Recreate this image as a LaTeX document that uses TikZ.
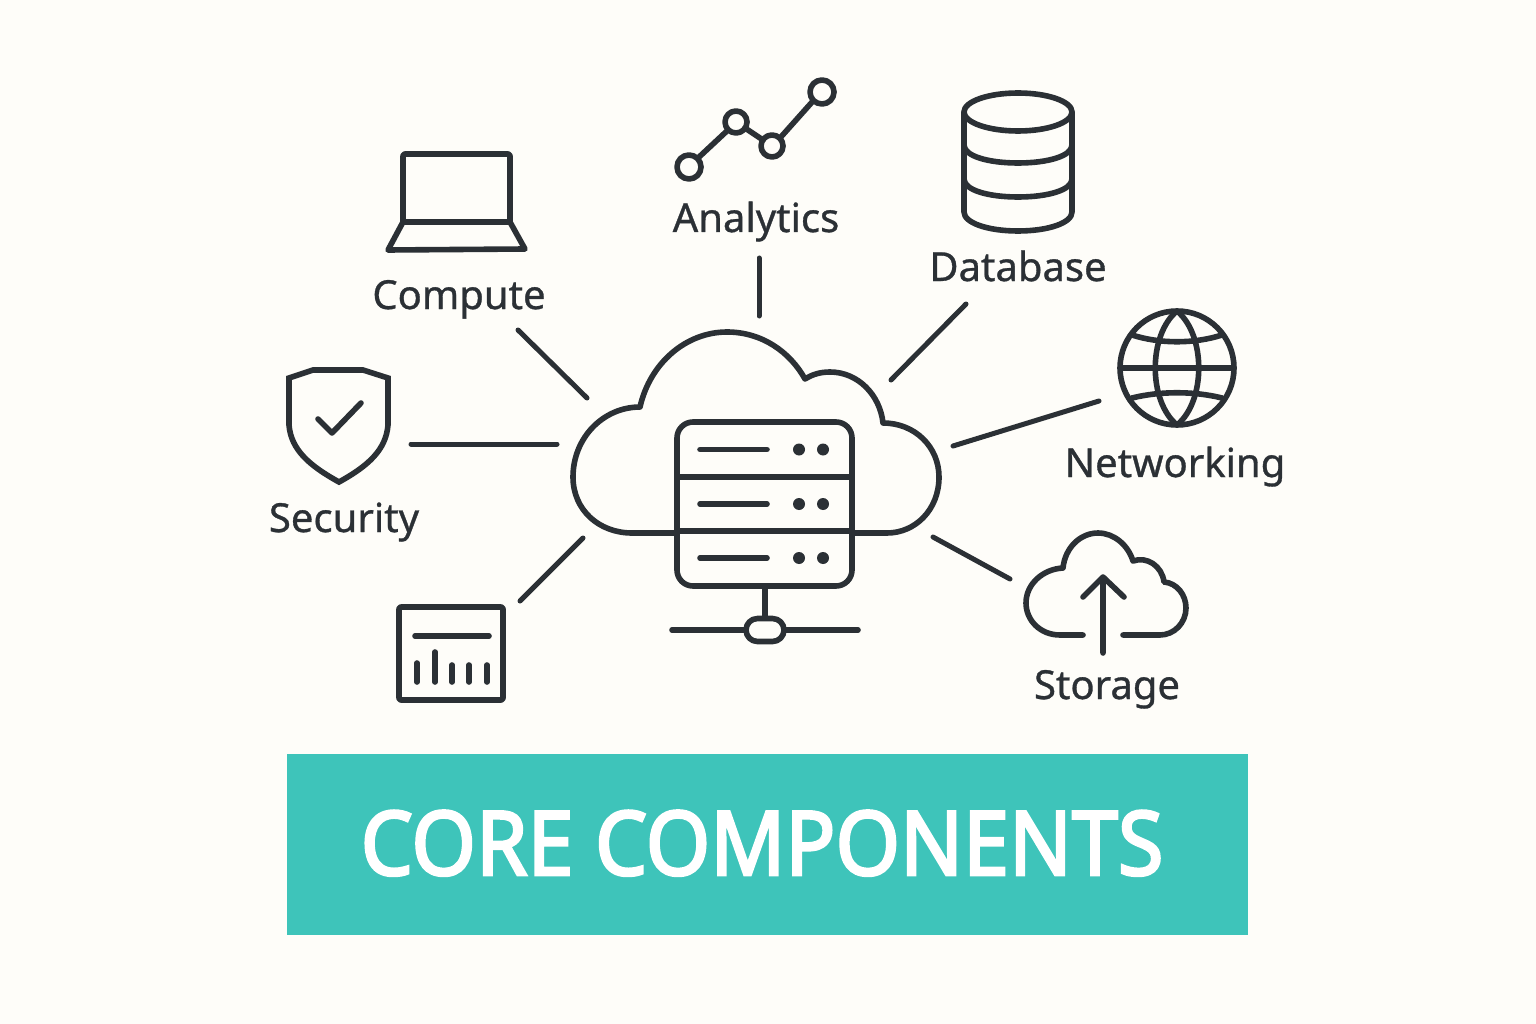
\documentclass[tikz,border=0pt]{standalone}
\usepackage{fontspec}
\setmainfont[FakeBold=0.8]{Noto Sans}
\newfontfamily\titlefont[FakeBold=3]{Noto Sans}
\definecolor{ink}{HTML}{2B3035}
\definecolor{paper}{HTML}{FEFDF9}
\definecolor{teal}{HTML}{3EC4BA}
\tikzset{
  icon/.style={draw=ink,line width=5.6pt,line cap=round,line join=round},
  link/.style={draw=ink,line width=5pt,line cap=round},
  lbl/.style={text=ink,inner sep=0pt,anchor=base,font=\fontsize{40}{46}\selectfont},
  dot/.style={fill=ink,draw=none}
}
\begin{document}
\begin{tikzpicture}[x=1pt,y=-1pt]
\useasboundingbox (0,0) rectangle (1536,1024);
\fill[paper] (0,0) rectangle (1536,1024);
% banner
\node[fill=teal,minimum width=961pt,minimum height=181pt,inner sep=0pt,anchor=center] (banner) at (767.5,844.5) {};
\node[text=white,inner sep=0pt,anchor=base,font=\titlefont\fontsize{89}{100}\selectfont] (title) at (762,875) {\scalebox{0.93}[1]{CORE COMPONENTS}};
% central cloud
\draw[icon] (677,533) -- (632,533) .. controls (599,533) and (573,510) .. (573,477)
  .. controls (573,438) and (603,407) .. (640,407)
  .. controls (650,363) and (686,332) .. (727,332)
  .. controls (762,332) and (790,352) .. (805,379)
  .. controls (813,374) and (821,372) .. (830,372)
  .. controls (858,372) and (880,395) .. (883,423)
  .. controls (915,423) and (939,447) .. (939,477)
  .. controls (939,510) and (915,533) .. (887,533) -- (852,533);
% server
\draw[icon,rounded corners=16pt] (677,422) rectangle (852,586);
\draw[icon] (677,477) -- (852,477) (677,531) -- (852,531);
\draw[icon] (700,449.5) -- (767,449.5) (700,504) -- (767,504) (700,558) -- (767,558);
\foreach \y in {449.5,504,558} {
  \fill[dot] (799,\y) circle (6pt);
  \fill[dot] (823,\y) circle (6pt);
}
\draw[icon] (765,586) -- (765,617);
\draw[icon,rounded corners=11.5pt] (746,618.5) rectangle (784,641.5);
\draw[icon] (672,630) -- (746,630) (784,630) -- (858,630);
% laptop
\draw[icon,rounded corners=2pt] (403,222) -- (403,154) -- (510,154) -- (510,222);
\draw[icon] (403,222) -- (510,222) -- (525,249) -- (388,250) -- cycle;
\node[lbl] (compute) at (459,309) {Compute};
% analytics
\draw[icon] (689,167) circle (12pt) (736,122) circle (11pt) (772,146) circle (11pt) (822,92) circle (12pt);
\draw[icon] (698,158) -- (728,130) (745,128) -- (763,140) (780,138) -- (813,101);
\node[lbl] (analytics) at (756,232) {Analytics};
% database
\draw[icon] (1018,112) ellipse (54pt and 19pt);
\draw[icon] (964,112) -- (964,212) .. controls (964,223) and (988,231) .. (1018,231) .. controls (1048,231) and (1072,223) .. (1072,212) -- (1072,112);
\draw[icon] (964,145) .. controls (964,156) and (988,163) .. (1018,163) .. controls (1048,163) and (1072,156) .. (1072,145);
\draw[icon] (964,179) .. controls (964,190) and (988,197) .. (1018,197) .. controls (1048,197) and (1072,190) .. (1072,179);
\node[lbl] (database) at (1018,281) {Database};
% globe
\draw[icon] (1177,368) circle (57pt);
\draw[icon] (1177,311) .. controls (1148,335) and (1148,401) .. (1177,425) .. controls (1206,401) and (1206,335) .. (1177,311);
\draw[icon] (1120,368) -- (1234,368);
\draw[icon] (1132,335) .. controls (1160,344) and (1194,344) .. (1222,335);
\draw[icon] (1132,398) .. controls (1160,391) and (1194,391) .. (1222,398);
\node[lbl] (networking) at (1175,477) {Networking};
% storage
\draw[icon] (1083,635) -- (1060,635) .. controls (1040,635) and (1026,620) .. (1026,603)
  .. controls (1026,584) and (1043,569) .. (1063,568)
  .. controls (1065,548) and (1080,533) .. (1098,533)
  .. controls (1114,533) and (1128,545) .. (1133,561)
  .. controls (1147,556) and (1162,566) .. (1164,582)
  .. controls (1177,583) and (1186,595) .. (1186,608)
  .. controls (1186,623) and (1174,635) .. (1160,635) -- (1123,635);
\draw[icon] (1103,653) -- (1103,577) (1083,597) -- (1103,577) -- (1124,597);
\node[lbl] (storage) at (1107,699) {Storage};
% shield
\draw[icon,miter limit=4,line join=miter] (289,378) -- (313,370) -- (363,370) -- (388,378) -- (388,425)
  .. controls (386,450) and (368,466) .. (339,482)
  .. controls (310,466) and (291,450) .. (289,425) -- cycle;
\draw[icon] (318,419) -- (332,433) -- (361,403);
\node[lbl] (security) at (344,532) {Security};
% panel
\draw[icon,rounded corners=2pt] (399,607) rectangle (503,700);
\draw[icon] (415,636) -- (489,636);
\draw[icon] (417,682) -- (417,663) (435,682) -- (435,652) (452,682) -- (452,665) (469,682) -- (469,665) (487,682) -- (487,665);
% connectors
\coordinate (c1a) at (518,330); \coordinate (c1b) at (587,398);
\coordinate (c2a) at (759,258); \coordinate (c2b) at (759,316);
\coordinate (c3a) at (966,304); \coordinate (c3b) at (891,380);
\coordinate (c4a) at (1099,401); \coordinate (c4b) at (953,446);
\coordinate (c5a) at (1010,579); \coordinate (c5b) at (933,537);
\coordinate (c6a) at (520,601); \coordinate (c6b) at (583,538);
\coordinate (c7a) at (411,444); \coordinate (c7b) at (557,444);
\draw[link] (c1a) -- (c1b);
\draw[link] (c2a) -- (c2b);
\draw[link] (c3a) -- (c3b);
\draw[link] (c4a) -- (c4b);
\draw[link] (c5a) -- (c5b);
\draw[link] (c6a) -- (c6b);
\draw[link] (c7a) -- (c7b);
\end{tikzpicture}
\end{document}
